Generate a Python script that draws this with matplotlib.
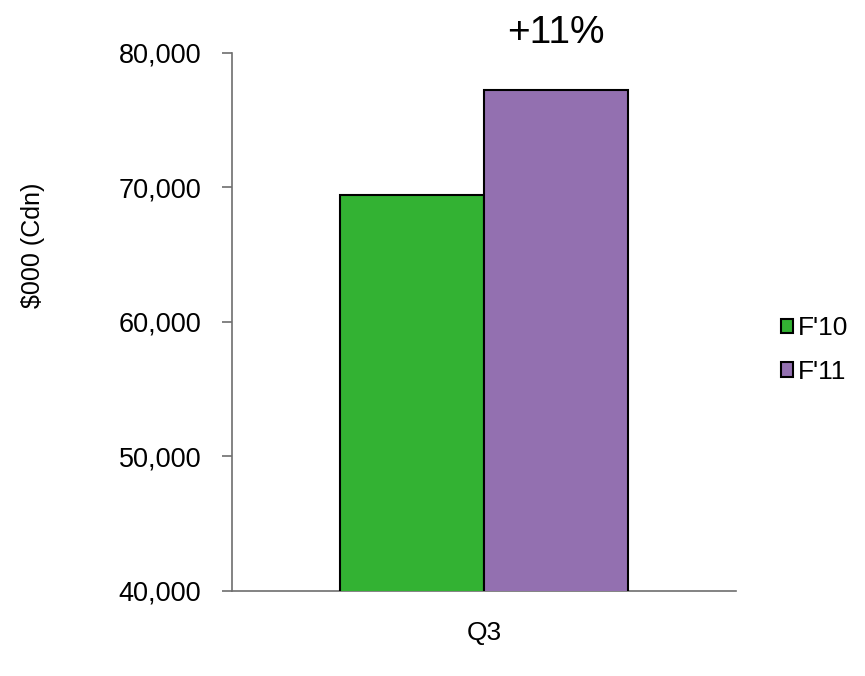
import matplotlib.pyplot as plt

# values
categories = ['Q3']
series = ["F'10", "F'11"]
values = [69400, 77200]
colors = ['#33b233', '#9370b0']
change_label = '+11%'

plt.rcParams['font.family'] = ['Liberation Sans', 'DejaVu Sans']

fig = plt.figure(figsize=(8.65, 6.76), dpi=100)
ax = fig.add_axes([0.268, 0.126, 0.583, 0.796])

width = 0.571
offsets = [-width / 2, width / 2]
for name, val, col, off in zip(series, values, colors, offsets):
    ax.bar(off, val, width=width, color=col, edgecolor='black',
           linewidth=1.5, label=name, zorder=3)

ax.set_xlim(-1, 1)
ax.set_ylim(40000, 80000)
ax.set_yticks(range(40000, 80001, 10000))
ax.yaxis.set_major_formatter(plt.FuncFormatter(lambda v, p: f'{int(v):,}'))
ax.set_xticks([0])
ax.set_xticklabels(categories)

for s in ['top', 'right']:
    ax.spines[s].set_visible(False)
for s in ['left', 'bottom']:
    ax.spines[s].set_color('#6e6e6e')
    ax.spines[s].set_linewidth(1.2)

ax.tick_params(axis='y', direction='out', length=7, width=1.2, color='#6e6e6e',
               labelsize=19.5, pad=15)
ax.tick_params(axis='x', length=0, labelsize=19, pad=22)

# percentage change above the F'11 bar
ax.annotate(change_label, xy=(offsets[1], 1.0), xycoords=('data', 'axes fraction'),
            xytext=(0, 7), textcoords='offset points',
            ha='center', va='baseline', fontsize=28)

fig.text(0.038, 0.637, '$000 (Cdn)', rotation=90, ha='center', va='center', fontsize=18)

leg = ax.legend(loc='center left', bbox_to_anchor=(0.875, 0.482),
                bbox_transform=fig.transFigure, frameon=False,
                fontsize=19, handlelength=0.47, handleheight=0.47,
                handletextpad=0.2, labelspacing=0.75)

fig.savefig('out.png', dpi=100)
